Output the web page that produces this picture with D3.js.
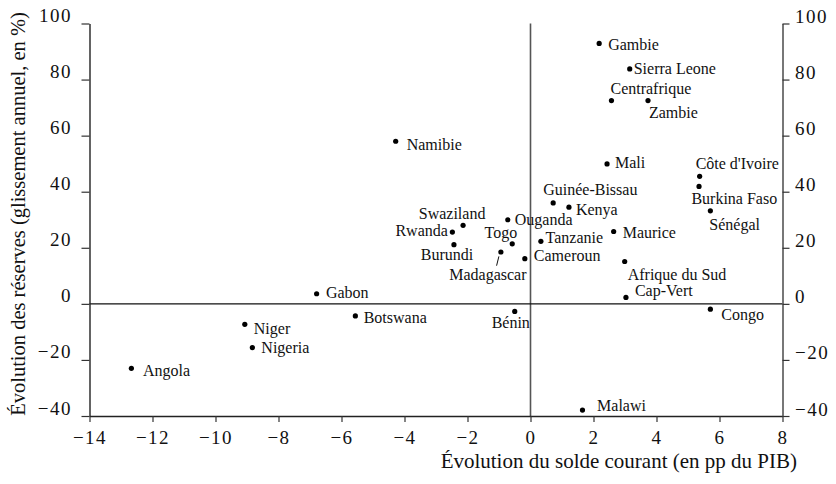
<!DOCTYPE html>
<html>
<head>
<meta charset="utf-8">
<script src="https://cdn.jsdelivr.net/npm/d3@7"></script>
<style>
  body { margin: 0; background: #fff; }
</style>
</head>
<body>
<div id="canvas"></div>
<script>
// countries and values
var countries = ["Gambie", "Sierra Leone", "Centrafrique", "Zambie", "Mali",
  "Côte d'Ivoire", "Burkina Faso", "Sénégal", "Maurice", "Afrique du Sud",
  "Cap-Vert", "Congo", "Guinée-Bissau", "Kenya", "Swaziland", "Ouganda",
  "Rwanda", "Togo", "Tanzanie", "Burundi", "Madagascar", "Cameroun",
  "Gabon", "Botswana", "Bénin", "Niger", "Nigeria", "Angola", "Namibie", "Malawi"];
// évolution du solde courant (pp du PIB)
var solde = [2.18, 3.15, 2.57, 3.73, 2.43,
  5.37, 5.35, 5.71, 2.64, 2.99,
  3.03, 5.71, 0.72, 1.22, -2.14, -0.72,
  -2.48, -0.58, 0.33, -2.43, -0.94, -0.18,
  -6.79, -5.56, -0.50, -9.07, -8.83, -12.67, -4.28, 1.65];
// évolution des réserves (glissement annuel, %)
var reserves = [92.9, 83.8, 72.5, 72.5, 49.9,
  45.5, 41.9, 33.2, 25.8, 15.1,
  2.3, -1.9, 36.0, 34.5, 28.0, 30.0,
  25.6, 21.4, 22.3, 21.1, 18.5, 16.1,
  3.6, -4.3, -2.7, -7.3, -15.6, -23.0, 58.0, -37.9];

var xTicks = [-14, -12, -10, -8, -6, -4, -2, 0, 2, 4, 6, 8];
var yTicks = [-40, -20, 0, 20, 40, 60, 80, 100];

// label placement relative to the dot: dx, dy (baseline), anchor
var place = {
  "Gambie": [9, 6.7, "start"], "Sierra Leone": [4, 5, "start"],
  "Centrafrique": [-1, -7, "start"], "Zambie": [1, 17, "start"],
  "Mali": [8, 4, "start"], "Côte d'Ivoire": [-4, -7.7, "start"],
  "Burkina Faso": [-7.6, 17.6, "start"], "Sénégal": [-1, 19, "start"],
  "Maurice": [9, 6.6, "start"], "Afrique du Sud": [3, 18, "start"],
  "Cap-Vert": [9, -1, "start"], "Congo": [11, 10.7, "start"],
  "Guinée-Bissau": [-10, -8, "start"], "Kenya": [7, 7.7, "start"],
  "Swaziland": [-11, -6.4, "middle"], "Ouganda": [7, 5, "start"],
  "Rwanda": [-4.5, 4.4, "end"], "Togo": [5, -5.7, "end"],
  "Tanzanie": [4.7, 1.6, "start"], "Burundi": [-7, 15.7, "middle"],
  "Madagascar": [-13, 28.4, "middle"], "Cameroun": [9, 2.7, "start"],
  "Gabon": [9.3, 4.3, "start"], "Botswana": [8.3, 6.7, "start"],
  "Bénin": [-4, 16.6, "middle"], "Niger": [9, 10, "start"],
  "Nigeria": [9, 5, "start"], "Angola": [11.6, 7.7, "start"],
  "Namibie": [11, 9, "start"], "Malawi": [14.6, 1, "start"]
};

var serif = "'Liberation Serif', 'Times New Roman', serif";
var width = 836, height = 484;
var x = d3.scaleLinear().domain([-14, 8]).range([89.5, 782.5]);
var y = d3.scaleLinear().domain([-40, 100]).range([416, 23.5]);

var svg = d3.select("#canvas").append("svg")
  .attr("width", width)
  .attr("height", height);

// zero lines
svg.append("line")
  .attr("x1", x(0)).attr("x2", x(0))
  .attr("y1", y(100)).attr("y2", y(-40))
  .attr("stroke", "#555").attr("stroke-width", 1.6);
svg.append("line")
  .attr("x1", x(-14)).attr("x2", x(8))
  .attr("y1", y(0)).attr("y2", y(0))
  .attr("stroke", "#111").attr("stroke-width", 1.2);

// axes
var fmt = d3.format("d");

var gx = svg.append("g")
  .attr("transform", "translate(0," + y(-40) + ")")
  .call(d3.axisBottom(x).tickValues(xTicks).tickSize(6).tickSizeOuter(0).tickFormat(fmt));
gx.selectAll("text").attr("y", 28).attr("dy", 0);

var gl = svg.append("g")
  .attr("transform", "translate(" + x(-14) + ",0)")
  .call(d3.axisLeft(y).tickValues(yTicks).tickSize(8).tickSizeOuter(0).tickFormat(fmt));
gl.selectAll("text").attr("x", -17.5).attr("y", -2).attr("dy", 0);

var gr = svg.append("g")
  .attr("transform", "translate(" + x(8) + ",0)")
  .call(d3.axisRight(y).tickValues(yTicks).tickSize(7).tickSizeOuter(0).tickFormat(fmt));
gr.selectAll("text").attr("x", 12.5).attr("y", -1).attr("dy", 0);

gl.select(".domain").attr("stroke", "#222").attr("stroke-width", 1.4);
gx.select(".domain").attr("stroke", "#222").attr("stroke-width", 1.4);
gr.select(".domain").attr("stroke", "#555").attr("stroke-width", 1.6);
svg.selectAll(".tick line").attr("stroke", "#333").attr("stroke-width", 1.2);
svg.selectAll(".tick text")
  .style("font-family", serif)
  .style("font-size", "19px")
  .style("letter-spacing", "1.5px")
  .attr("fill", "#111");

// axis titles
svg.append("text")
  .attr("x", 797).attr("y", 468)
  .attr("text-anchor", "end")
  .style("font-family", serif)
  .style("font-size", "21px")
  .attr("fill", "#111")
  .text("Évolution du solde courant (en pp du PIB)");

svg.append("text")
  .attr("transform", "translate(25,214) rotate(-90)")
  .attr("text-anchor", "middle")
  .style("font-family", serif)
  .style("font-size", "20.5px")
  .attr("fill", "#111")
  .text("Évolution des réserves (glissement annuel, en %)");

// points
var idx = d3.range(countries.length);

svg.selectAll(".dot")
  .data(idx)
  .enter().append("circle")
    .attr("class", "dot")
    .attr("cx", function(i) { return x(solde[i]); })
    .attr("cy", function(i) { return y(reserves[i]); })
    .attr("r", 2.6)
    .attr("fill", "#000");

svg.selectAll(".lbl")
  .data(idx)
  .enter().append("text")
    .attr("class", "lbl")
    .attr("x", function(i) { return x(solde[i]) + place[countries[i]][0]; })
    .attr("y", function(i) { return y(reserves[i]) + place[countries[i]][1]; })
    .attr("text-anchor", function(i) { return place[countries[i]][2]; })
    .style("font-family", serif)
    .style("font-size", "16px")
    .attr("fill", "#111")
    .text(function(i) { return countries[i]; });

// leader for Madagascar
var m = countries.indexOf("Madagascar");
svg.append("line")
  .attr("x1", x(solde[m]) - 2).attr("y1", y(reserves[m]) + 4.4)
  .attr("x2", x(solde[m]) - 4.3).attr("y2", y(reserves[m]) + 13.7)
  .attr("stroke", "#111").attr("stroke-width", 1);
</script>
</body>
</html>
